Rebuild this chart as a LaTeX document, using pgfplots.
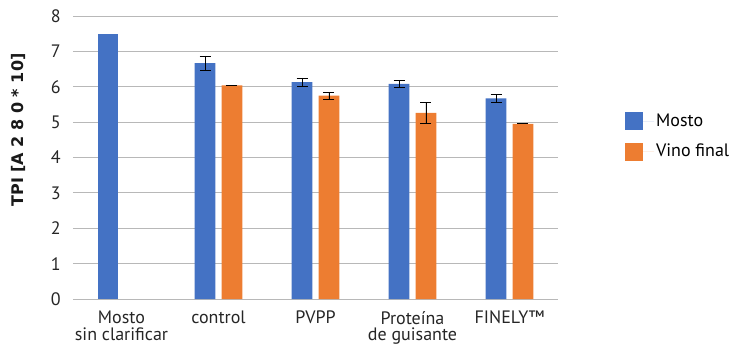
\documentclass[border=0pt]{standalone}
\usepackage{fontspec}
\setmainfont{PT Sans}
\newfontfamily\labfont{DejaVu Sans}
\usepackage{pgfplots}
\pgfplotsset{compat=1.18}
\definecolor{cblue}{HTML}{4472C4}
\definecolor{corange}{HTML}{ED7D31}
\begin{document}
\fontsize{18bp}{16.5bp}\selectfont
\begin{tikzpicture}
\begin{axis}[name=ax, at={(0,0)}, anchor=south west,
  scale only axis, width=485bp, height=283bp,
  xmin=-0.5, xmax=4.5, ymin=0, ymax=8,
  ybar, bar width=0.215,
  xtick={0,...,4},
  xticklabels={{Mosto\\sin clarificar},control,PVPP,{Proteína\\de guisante},FINELY™},
  ytick={0,...,8},
  /pgf/number format/assume math mode=true,
  major tick length=0,
  axis line style={draw=none},
  ymajorgrids, grid style={color=black!28, line width=0.8pt},
  tick label style={font=\fontsize{18bp}{16.5bp}\selectfont, color=black!85},
  yticklabel style={xshift=-6bp},
  xticklabel style={align=center, yshift=-6bp},
  ylabel={TPI [A 2 8 0 * 10]},
  ylabel style={at={(axis description cs:-0.112,0.597)}, anchor=center,
    font=\labfont\bfseries\fontsize{16bp}{19bp}\selectfont, color=black!90},
  legend style={draw=none, fill=none, at={(1.138,0.574)}, anchor=west,
    inner sep=0pt, row sep=11bp, font=\fontsize{18bp}{19bp}\selectfont},
  legend cell align=left,
  error bars/y dir=both, error bars/y explicit,
  error bars/error bar style={black, line width=0.8pt},
  error bars/error mark options={black, line width=0.8pt, mark size=5.5bp, rotate=90},
]
\addplot[fill=cblue, draw=none, bar shift=-0.139, forget plot,
  error bars/y dir=none]
  coordinates {(0,7.5)};
\addplot[fill=cblue, draw=none, bar shift=-0.139,
  legend image code/.code={\fill[cblue] (0bp,-9bp) rectangle (18bp,9bp); \path (0bp,0bp) -- (29bp,0bp);}]
  coordinates {(1,6.67) +- (0,0.2) (2,6.13) +- (0,0.12) (3,6.08) +- (0,0.1) (4,5.67) +- (0,0.11)};
\addplot[fill=corange, draw=none, bar shift=0.139,
  legend image code/.code={\fill[corange] (0bp,-9bp) rectangle (18bp,9bp); \path (0bp,0bp) -- (29bp,0bp);}]
  coordinates {(1,6.04) +- (0,0) (2,5.75) +- (0,0.1) (3,5.26) +- (0,0.3) (4,4.95) +- (0,0)};
\legend{Mosto, Vino final}
\end{axis}
\pgfresetboundingbox
\path (ax.south west) ++(-73bp,-53bp) rectangle ++(744bp,352bp);
\end{tikzpicture}
\end{document}
